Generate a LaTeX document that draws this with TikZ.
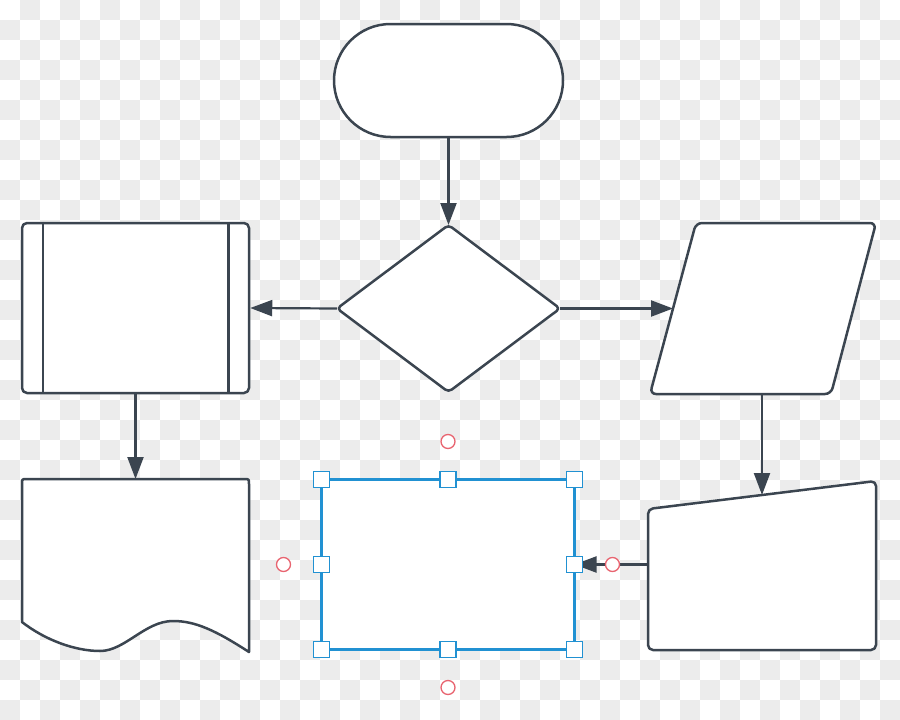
\documentclass[tikz,border=0pt]{standalone}
\usetikzlibrary{arrows.meta,shapes.misc,calc}
\definecolor{ink}{RGB}{59,69,80}
\definecolor{selblue}{RGB}{33,145,210}
\definecolor{hot}{RGB}{232,100,112}
\definecolor{checker}{RGB}{236,236,236}
\begin{document}
\begin{tikzpicture}[x=1pt,y=-1pt,
  shapeline/.style={draw=ink,line width=2.5pt,fill=white,line join=round},
  ghost/.style={inner sep=0pt,outer sep=0pt},
  flow/.style={draw=ink,line width=2.2pt,-{Triangle[length=22pt,width=16pt]}},
  handle/.style={draw=selblue,fill=white,line width=1.6pt,inner sep=0pt,minimum size=16pt},
  anchorpt/.style={circle,draw=hot,fill=white,line width=1.3pt,inner sep=0pt,minimum size=14pt}]
\useasboundingbox (0,0) rectangle (900,720);
% checkerboard background
\fill[white] (0,0) rectangle (900,720);
\foreach \i in {0,...,44}{
  \foreach \j in {0,...,35}{
    \pgfmathtruncatemacro\myparity{mod(\i+\j,2)}
    \ifnum\myparity=1 \fill[checker] (\i*20,\j*20) rectangle ++(20,20); \fi
  }
}
% terminal
\node[shapeline,rounded rectangle,inner sep=0pt,minimum width=229pt,minimum height=113pt] (term) at (448.5,80.5) {};
% decision
\node[ghost,minimum width=223pt,minimum height=167pt] (dec) at (448.5,308.5) {};
\draw[shapeline,rounded corners=4pt] (dec.north) -- (dec.east) -- (dec.south) -- (dec.west) -- cycle;
% predefined process
\node[shapeline,rounded corners=5pt,inner sep=0pt,minimum width=227pt,minimum height=170pt] (proc) at (135.5,308) {};
\draw[ink,line width=2.5pt] ([xshift=22pt]proc.north west) -- ([xshift=22pt]proc.south west);
\draw[ink,line width=2.5pt] ([xshift=-22pt]proc.north east) -- ([xshift=-22pt]proc.south east);
% data (parallelogram)
\node[ghost,minimum width=226pt,minimum height=171pt] (io) at (763,308.5) {};
\draw[shapeline,rounded corners=6pt] ([xshift=46pt]io.north west) -- (io.north east) -- ([xshift=-45pt]io.south east) -- (io.south west) -- cycle;
\coordinate (ioin) at ($(io.west)+(23,0)$);
% document
\node[ghost,minimum width=227pt,minimum height=173pt] (doc) at (135.5,565.5) {};
\draw[shapeline] (22,622) -- (22,484) .. controls (22,479) .. (27,479) -- (244,479)
  .. controls (249,479) .. (249,484) -- (249,652)
  .. controls (215,630) and (195,621) .. (173,621)
  .. controls (145,621) and (125,651) .. (100,651)
  .. controls (75,651) and (45,640) .. (22,622) -- cycle;
% manual input
\node[ghost,minimum width=228pt,minimum height=169pt] (mi) at (762,565.5) {};
\draw[shapeline,rounded corners=5pt] (mi.south west) -- ($(mi.north west)+(0,28)$) -- (mi.north east) -- (mi.south east) -- cycle;
\coordinate (miin) at ($(mi.north)+(0,14)$);
% selected process
\node[ghost,minimum width=253pt,minimum height=170pt] (task) at (448,564.5) {};
\draw[shapeline] (task.south west) rectangle (task.north east);
% connectors
\draw[flow] (term.south) -- (dec.north);
\draw[flow] (dec.west) -- (proc.east);
\draw[flow] (dec.east) -- (ioin);
\draw[flow] (proc.south) -- (doc.north);
\draw[flow] (io.south -| miin) -- (miin);
\draw[flow] (mi.west |- task.east) -- (task.east);
% selection outline and handles
\draw[selblue,line width=2.2pt] (task.south west) rectangle (task.north east);
\foreach \a in {north west,north,north east,west,east,south west,south,south east}{
  \node[handle] at (task.\a) {};
}
\node[anchorpt] (cn) at ($(task.north)+(0,-38)$) {};
\node[anchorpt] (cs) at ($(task.south)+(0,38)$) {};
\node[anchorpt] (cw) at ($(task.west)+(-38,0)$) {};
\node[anchorpt] (ce) at ($(task.east)+(38,0)$) {};
\end{tikzpicture}
\end{document}
